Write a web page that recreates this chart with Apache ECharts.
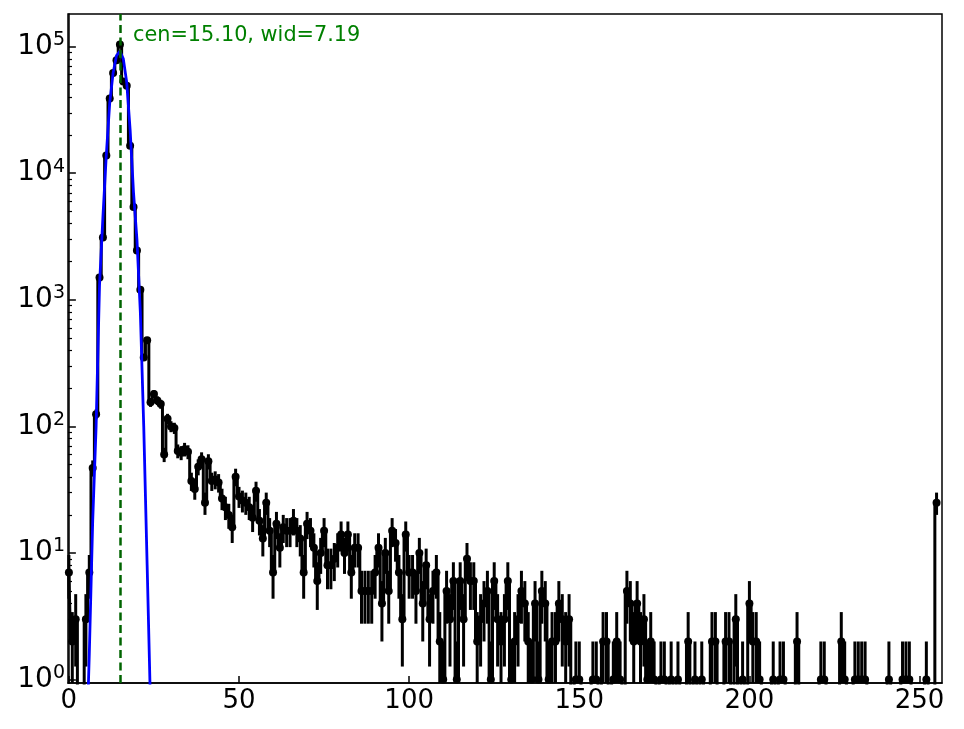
<!DOCTYPE html>
<html>
<head>
<meta charset="utf-8">
<script src="https://cdn.jsdelivr.net/npm/echarts@6/dist/echarts.min.js"></script>
<style>
html, body { margin: 0; padding: 0; background: #fff; }
#chart { width: 964px; height: 729px; }
</style>
</head>
<body>
<div id="chart"></div>
<script>
// counts per channel, 0..255
var counts = [
  7, 2, 3, 0, 0, 3, 7, 47, 125, 1500, 3100, 13800, 39000, 62000, 78000, 104000,
  53000, 49000, 16500, 5400, 2450, 1200, 350, 480, 155, 180, 160, 150, 60, 115, 100, 97,
  64, 62, 66, 63, 37, 32, 48, 55, 25, 53, 37, 38, 36, 27, 23, 20,
  16, 40, 28, 26, 25, 23, 19, 31, 18, 13, 25, 15, 7, 17, 11, 16,
  15, 15, 18, 15, 13, 7, 17, 15, 11, 6, 10, 15, 8, 8, 9, 11,
  14, 10, 14, 7, 11, 11, 5, 5, 5, 5, 7, 11, 4, 10, 5, 15,
  12, 7, 3, 14, 7, 7, 5, 10, 4, 8, 3, 5, 7, 2, 1, 5,
  3, 6, 1, 6, 3, 9, 6, 6, 2, 3, 4, 5, 1, 6, 3, 2,
  3, 6, 1, 2, 3, 5, 4, 2, 1, 4, 1, 5, 4, 1, 2, 2,
  4, 3, 2, 3, 0, 1, 1, 0, 0, 0, 1, 1, 0, 2, 2, 0,
  1, 2, 1, 0, 5, 4, 2, 4, 2, 3, 1, 2, 1, 0, 1, 1,
  0, 1, 0, 1, 0, 0, 2, 0, 1, 0, 1, 0, 0, 2, 2, 0,
  0, 2, 2, 0, 3, 0, 1, 0, 4, 2, 2, 1, 0, 0, 0, 1,
  0, 1, 1, 0, 0, 0, 2, 0, 0, 0, 0, 0, 0, 1, 1, 0,
  0, 0, 0, 2, 1, 0, 0, 1, 1, 1, 1, 0, 0, 0, 0, 0,
  0, 1, 0, 0, 0, 1, 1, 1, 0, 0, 0, 0, 1, 0, 0, 25
];

// gaussian fit curve as drawn (blue)
var fitX = [5, 6, 7, 8, 9, 10, 11, 12, 13, 14, 15, 16, 17, 18, 19, 20, 21, 22, 23, 24, 25];
var fitY = [0.2, 1.6, 18, 100, 1300, 4500, 14000, 36000, 62000, 85000, 92000, 80000, 52000,
            22000, 7000, 3000, 800, 100, 8, 0.6, 0.03];

var cen = 15.10, wid = 7.19;

var xTicks = [0, 50, 100, 150, 200, 250];
var decades = [1, 10, 100, 1000, 10000, 100000];
var minorSteps = [2, 3, 4, 5, 6, 7, 8, 9];

var xMin = -0.26, xMax = 256.6;
var yMin = 0.94, yMax = 1.81e5;

var minorTicks = [];
decades.forEach(function (d) {
  minorSteps.forEach(function (m) {
    if (d * m < yMax) minorTicks.push(d * m);
  });
});

// zero counts are clipped far below the axis, as the log plot does
var lineData = counts.map(function (c, i) { return [i, c > 0 ? c : 1e-30]; });
var errData = [];
counts.forEach(function (c, i) {
  if (c > 0) errData.push([i, c, Math.sqrt(c)]);
});
var fitData = fitX.map(function (x, i) { return [x, fitY[i]]; });

var font = 'DejaVu Sans';
var chart = echarts.init(document.getElementById('chart'));

chart.setOption({
  animation: false,
  backgroundColor: '#fff',
  title: {
    text: 'cen=' + cen.toFixed(2) + ', wid=' + wid.toFixed(2),
    left: 133,
    top: 25,
    padding: 0,
    textStyle: { color: '#008000', fontSize: 20.8, fontWeight: 'normal', fontFamily: font }
  },
  grid: {
    left: 68, right: 22, top: 14, bottom: 46,
    show: true, borderColor: '#000', borderWidth: 1.5, backgroundColor: 'transparent'
  },
  xAxis: {
    type: 'value',
    min: xMin,
    max: xMax,
    axisLine: { show: true, onZero: false, lineStyle: { color: '#000', width: 1.5 } },
    axisTick: { inside: true, length: 7, customValues: xTicks, lineStyle: { color: '#000', width: 1.5 } },
    axisLabel: { customValues: xTicks, color: '#000', fontSize: 26, fontFamily: font, margin: 5 },
    splitLine: { show: false }
  },
  yAxis: [
    {
      type: 'log',
      logBase: 10,
      min: yMin,
      max: yMax,
      axisLine: { show: true, lineStyle: { color: '#000', width: 1.5 } },
      axisTick: { inside: true, length: 7, customValues: decades, lineStyle: { color: '#000', width: 1.5 } },
      axisLabel: {
        customValues: decades,
        margin: 3,
        formatter: function (v) {
          return '{b|10}{s|' + Math.round(Math.log10(v)) + '}';
        },
        rich: {
          b: { fontSize: 28, fontFamily: font, color: '#000', lineHeight: 32 },
          s: { fontSize: 19, fontFamily: font, color: '#000', verticalAlign: 'top', lineHeight: 32 }
        }
      },
      splitLine: { show: false }
    },
    {
      type: 'log',
      logBase: 10,
      min: yMin,
      max: yMax,
      position: 'left',
      axisLine: { show: false },
      axisTick: { inside: true, length: 4, customValues: minorTicks, lineStyle: { color: '#000', width: 1.2 } },
      axisLabel: { show: false },
      splitLine: { show: false }
    }
  ],
  series: [
    {
      name: 'errors',
      type: 'custom',
      z: 2,
      data: errData,
      encode: { x: 0, y: 1 },
      renderItem: function (params, api) {
        var x = api.value(0), n = api.value(1), e = api.value(2);
        var top = api.coord([x, Math.min(n + e, yMax)]);
        var bot = api.coord([x, Math.max(n - e, yMin)]);
        return {
          type: 'line',
          shape: { x1: top[0], y1: top[1], x2: bot[0], y2: bot[1] },
          style: { stroke: '#000', lineWidth: 3 }
        };
      }
    },
    {
      name: 'data',
      type: 'line',
      z: 3,
      step: 'middle',
      data: lineData,
      clip: true,
      symbol: 'circle',
      symbolSize: 8,
      showAllSymbol: true,
      itemStyle: { color: '#000' },
      lineStyle: { color: '#000', width: 3 }
    },
    {
      name: 'fit',
      type: 'line',
      z: 4,
      data: fitData,
      clip: true,
      showSymbol: false,
      lineStyle: { color: '#0000ff', width: 2.8 },
      markLine: {
        silent: true,
        symbol: 'none',
        label: { show: false },
        lineStyle: { color: '#006400', width: 2.5, type: [8, 4.5] },
        data: [{ xAxis: cen }]
      }
    }
  ]
});
</script>
</body>
</html>
